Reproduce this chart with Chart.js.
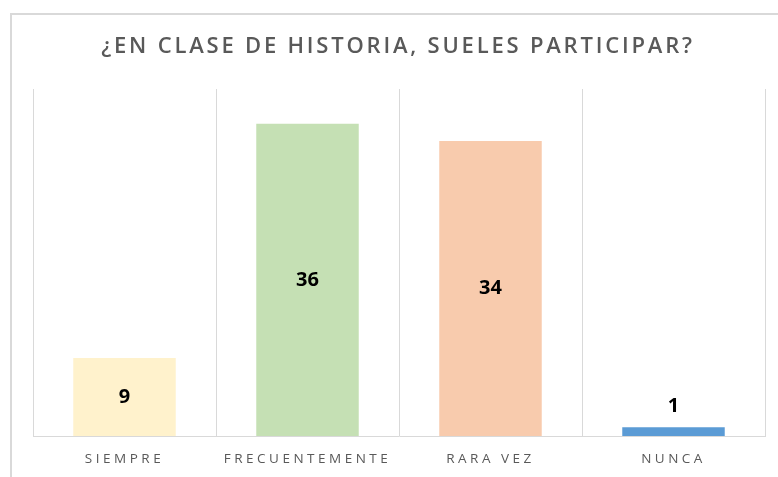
<!DOCTYPE html>
<html>
<head>
<meta charset="utf-8">
<script src="https://cdn.jsdelivr.net/npm/chart.js@4.4.0/dist/chart.umd.min.js"></script>
<style>
  html, body { margin: 0; padding: 0; background: #fff; overflow: hidden; }
  #wrap { position: relative; width: 778px; height: 477px; }
  #frame { position: absolute; left: 10px; top: 13px; width: 800px; height: 500px; border: 2px solid #d9d9d9; box-sizing: border-box; }
  canvas { position: absolute; left: 0; top: 0; }
</style>
</head>
<body>
<div id="wrap">
  <div id="frame"></div>
  <canvas id="c" width="778" height="477"></canvas>
</div>
<script>
const titleText = "¿EN CLASE DE HISTORIA, SUELES PARTICIPAR?";
const categories = ["SIEMPRE", "FRECUENTEMENTE", "RARA VEZ", "NUNCA"];
const values = [9, 36, 34, 1];
const barColors = ["#FFF2CC", "#C5E0B4", "#F8CBAD", "#5B9BD5"];
const yMax = 40;

const spacingPlugin = {
  id: 'spacing',
  beforeDraw(chart) { chart.ctx.letterSpacing = '3.5px'; }
};

const titlePlugin = {
  id: 'customTitle',
  afterDraw(chart) {
    const ctx = chart.ctx;
    ctx.save();
    ctx.letterSpacing = '2.8px';
    ctx.font = '600 22px "Open Sans"';
    ctx.fillStyle = '#595959';
    ctx.textAlign = 'center';
    ctx.textBaseline = 'middle';
    ctx.fillText(titleText, 398, 47);
    ctx.restore();
  }
};

const labelPlugin = {
  id: 'barLabels',
  afterDatasetsDraw(chart) {
    const ctx = chart.ctx;
    const meta = chart.getDatasetMeta(0);
    ctx.save();
    ctx.letterSpacing = '0px';
    ctx.font = 'bold 20px "Open Sans"';
    ctx.fillStyle = '#000000';
    ctx.textAlign = 'center';
    ctx.textBaseline = 'middle';
    meta.data.forEach((bar, i) => {
      const v = values[i];
      let y;
      if (bar.base - bar.y < 30) {
        y = bar.y - 21;
      } else {
        y = (bar.y + bar.base) / 2;
      }
      ctx.fillText(String(v), bar.x, y);
    });
    ctx.restore();
  }
};

new Chart(document.getElementById('c'), {
  type: 'bar',
  data: {
    labels: categories,
    datasets: [{
      data: values,
      backgroundColor: barColors,
      borderWidth: 0,
      barPercentage: 0.56,
      categoryPercentage: 1.0
    }]
  },
  options: {
    responsive: false,
    animation: false,
    events: [],
    layout: { padding: { left: 33, right: 13, top: 89, bottom: 0 } },
    plugins: {
      legend: { display: false },
      title: { display: false },
      tooltip: { enabled: false }
    },
    scales: {
      x: {
        grid: { display: true, offset: true, color: '#d9d9d9', lineWidth: 1, drawTicks: false },
        border: { display: true, color: '#d9d9d9', width: 1 },
        ticks: { color: '#595959', font: { family: 'Open Sans', size: 13.5 }, padding: 15, maxRotation: 0 },
        afterFit(scale) { scale.height = 41; }
      },
      y: {
        display: false,
        min: 0,
        max: yMax
      }
    }
  },
  plugins: [spacingPlugin, titlePlugin, labelPlugin]
});
</script>
</body>
</html>
